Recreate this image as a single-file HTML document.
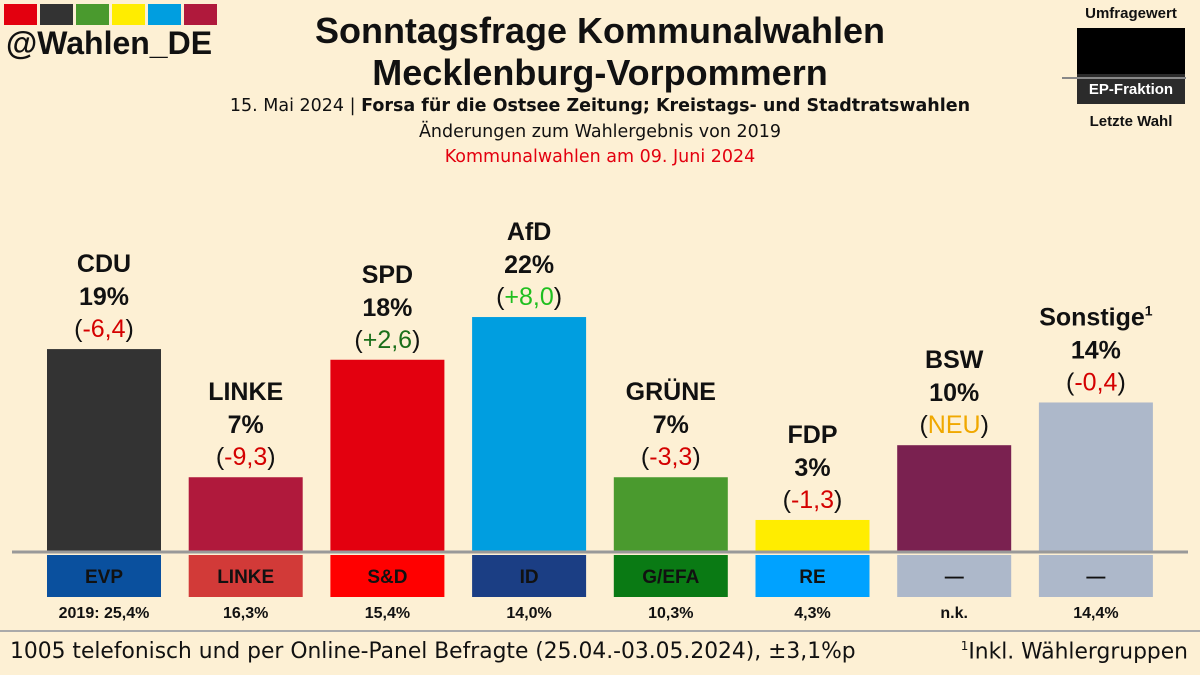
<!DOCTYPE html>
<html><head><meta charset="utf-8"><style>
body{margin:0;width:1200px;height:675px;background:#fdf0d4;font-family:"Liberation Sans","DejaVu Sans",sans-serif;position:relative;overflow:hidden;color:#111}
.a{position:absolute;white-space:nowrap}
.c{text-align:center}
.s{font-family:"DejaVu Sans",sans-serif;font-size:17.5px}
</style></head><body>
<div class="a" style="left:4px;top:4px;display:flex;gap:3px">
<div style="width:33px;height:21px;background:#e3000f"></div><div style="width:33px;height:21px;background:#333"></div><div style="width:33px;height:21px;background:#4a9a2e"></div><div style="width:33px;height:21px;background:#ffed00"></div><div style="width:33px;height:21px;background:#009ee0"></div><div style="width:33px;height:21px;background:#b0193c"></div>
</div>
<div class="a" style="left:6px;top:25px;font-size:32px;font-weight:bold">@Wahlen_DE</div>
<div class="a c" style="left:250px;width:700px;top:10px;font-size:36px;font-weight:bold;line-height:42px">Sonntagsfrage Kommunalwahlen<br>Mecklenburg-Vorpommern</div>
<div class="a c s" style="left:200px;width:800px;top:96px">15. Mai 2024 | <b>Forsa für die Ostsee Zeitung; Kreistags- und Stadtratswahlen</b></div>
<div class="a c s" style="left:200px;width:800px;top:122px">Änderungen zum Wahlergebnis von 2019</div>
<div class="a c s" style="left:200px;width:800px;top:147px;color:#e3000f">Kommunalwahlen am 09. Juni 2024</div>
<div class="a c" style="left:1066px;top:5px;width:130px;font-size:15px;font-weight:bold">
<div style="height:23px">Umfragewert</div>
<div style="margin:0 11px;height:46px;background:#000"></div>
<div style="position:absolute;left:-4px;width:124px;top:72px;height:2px;background:#888"></div>
<div style="margin:0 11px;height:30px;background:#2b2b2b;color:#fff;line-height:32px;font-size:15px">EP-Fraktion</div>
<div style="margin-top:9px">Letzte Wahl</div>
</div>
<svg class="a" style="left:0;top:0" width="1200" height="675">
<g id="g"></g>
<line x1="12" x2="1188" y1="552" y2="552" stroke="#999" stroke-width="3"/>
<line x1="0" x2="1200" y1="631" y2="631" stroke="#aaa" stroke-width="2"/>
</svg>
<div class="a" style="left:10px;top:639px;font-size:21.8px;font-family:'DejaVu Sans',sans-serif">1005 telefonisch und per Online-Panel Befragte (25.04.-03.05.2024), ±3,1%p</div>
<div class="a" style="right:12px;top:639px;font-size:21.8px;font-family:'DejaVu Sans',sans-serif"><sup style="font-size:12px">1</sup>Inkl. Wählergruppen</div>
<script>
const parties=["CDU","LINKE","SPD","AfD","GRÜNE","FDP","BSW","Sonstige"];
const values=[19,7,18,22,7,3,10,14];
const changes=["-6,4","-9,3","+2,6","+8,0","-3,3","-1,3","NEU","-0,4"];
const fractions=["EVP","LINKE","S&D","ID","G/EFA","RE","—","—"];
const lastVotes=["2019: 25,4%","16,3%","15,4%","14,0%","10,3%","4,3%","n.k.","14,4%"];
const barColors=["#333333","#b0193c","#e3000f","#009ee0","#4a9a2e","#ffed00","#7a2150","#adb8ca"];
const fracColors=["#0a509e","#d23a38","#ff0000","#1b3e84","#0a7a14","#00a2ff","#adb8ca","#adb8ca"];
const NS="http://www.w3.org/2000/svg",g=document.getElementById("g");
const x=i=>47+i*141.7, w=114, base=552, y=v=>base-v*10.68;
function el(t,a,txt){const e=document.createElementNS(NS,t);for(const k in a)e.setAttribute(k,a[k]);if(txt!=null)e.textContent=txt;g.appendChild(e);return e;}
parties.forEach((p,i)=>{
 const top=y(values[i]),cx=x(i)+w/2;
 const b=el("rect",{x:x(i),y:top,width:w,height:base-top,fill:barColors[i]});
 
 
 const f=el("rect",{x:x(i),y:555,width:w,height:42,fill:fracColors[i]});
 
 
 const ft=el("text",{x:cx,y:583,"text-anchor":"middle","font-size":19,"font-weight":"bold",fill:"#111"},fractions[i]);
 
 
 const lv=el("text",{x:cx,y:618,"text-anchor":"middle","font-size":16,"font-weight":"bold",fill:"#111"},lastVotes[i]);
 
 
 const n=el("text",{x:cx,y:top-77,"text-anchor":"middle","font-size":25,"font-weight":"bold",fill:"#111"},p);
 if(p==="Sonstige"){const s=el("tspan",{"font-size":14,dy:-10},"1");n.appendChild(s);}
 
 
 const pc=el("text",{x:cx,y:top-44,"text-anchor":"middle","font-size":25,"font-weight":"bold",fill:"#111"},values[i]+"%");
 
 
 const ch=changes[i],col=ch==="NEU"?"#f0a800":ch[0]==="+"?(values[i]>20?"#1fbf1f":"#1a6e1a"):"#d40000";
 const ct=el("text",{x:cx,y:top-12,"text-anchor":"middle","font-size":25,fill:"#111"});
 ct.appendChild(document.createTextNode("("));
 const sp=el("tspan",{fill:col},ch);ct.appendChild(sp);
 ct.appendChild(document.createTextNode(")"));
 
 
});
</script>
</body></html>
